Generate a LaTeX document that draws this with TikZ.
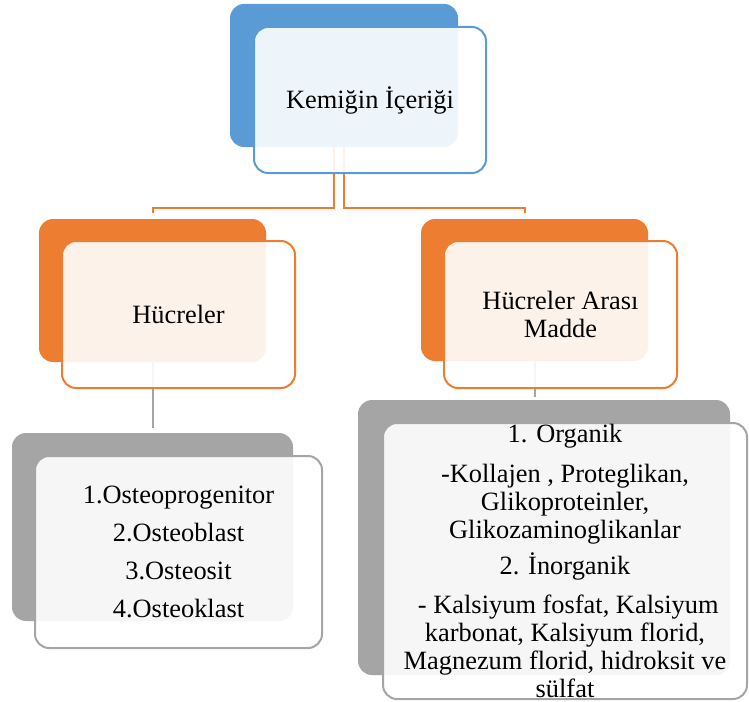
\documentclass[tikz,border=0pt]{standalone}
\usepackage{fontspec}
\setmainfont{Liberation Serif}
\usepackage{tikz}
\definecolor{kblue}{HTML}{5B9BD5}
\definecolor{korange}{HTML}{ED7D31}
\definecolor{kgrey}{HTML}{A5A5A5}
\begin{document}
\begin{tikzpicture}[x=0.5pt, y=-0.5pt,
            font=\fontsize{13.2}{14}\selectfont,
            back/.style={fill=#1, rounded corners=7pt, inner sep=0pt},
            front/.style={draw=#1, line width=1pt, fill=white, fill opacity=0.9,
            text opacity=1, rounded corners=7pt, align=center, inner sep=0pt},
            link/.style={draw=#1, line width=1pt}]
        \useasboundingbox (0,0) rectangle (749,701);

          % back boxes
          \node[back=kblue, minimum width=114pt, minimum height=71.5pt] (KB) at (344,75.5) {};
          \node[back=korange, minimum width=113.5pt, minimum height=71.5pt] (HB) at (152.5,290.5) {};
          \node[back=korange, minimum width=113.5pt, minimum height=71pt] (AB) at (534.5,290) {};
          \node[back=kgrey, minimum width=140.5pt, minimum height=94pt] (LB) at (152.5,527) {};
          \node[back=kgrey, minimum width=186pt, minimum height=137.5pt] (MB) at (544,537.5) {};

          % connectors
          \draw[link=korange] ([xshift=-5pt]KB.south) |- ([xshift=0pt,yshift=5.5pt]HB.north) -- ([yshift=3pt]HB.north);
          \draw[link=korange] (KB.south) |- ([xshift=-5pt,yshift=5.5pt]AB.north) -- ([xshift=-5pt,yshift=3pt]AB.north);
          \draw[link=kgrey] (HB.south) -- ([yshift=2.5pt]LB.north);
          \draw[link=kgrey] (AB.south) -- ([yshift=1.5pt]AB.south |- MB.north);

          % front boxes
          \node[front=kblue, minimum width=116pt, minimum height=73pt] (K) at (370,100) {Kemiğin İçeriği};
          \node[front=korange, minimum width=116.5pt, minimum height=73.5pt] (H) at (178.5,314.5) {Hücreler};
          \node[front=korange, minimum width=116.5pt, minimum height=73.5pt] (A) at (560.5,314.5) {Hücreler Arası\\Madde};
          \node[front=kgrey, minimum width=143.5pt, minimum height=96pt] (L) at (178.5,552)
            {1.Osteoprogenitor\\[5pt]2.Osteoblast\\[5pt]3.Osteosit\\[5pt]4.Osteoklast};
          \node[front=kgrey, minimum width=182pt, minimum height=138pt] (M) at (565,561)
            {1. Organik\\[6pt]-Kollajen , Proteglikan,\\Glikoproteinler,\\Glikozaminoglikanlar\\[4pt]
             2. İnorganik\\[5.5pt]\ - Kalsiyum fosfat, Kalsiyum\\karbonat, Kalsiyum florid,\\
             Magnezum florid, hidroksit ve\\sülfat};
        \end{tikzpicture}
\end{document}
